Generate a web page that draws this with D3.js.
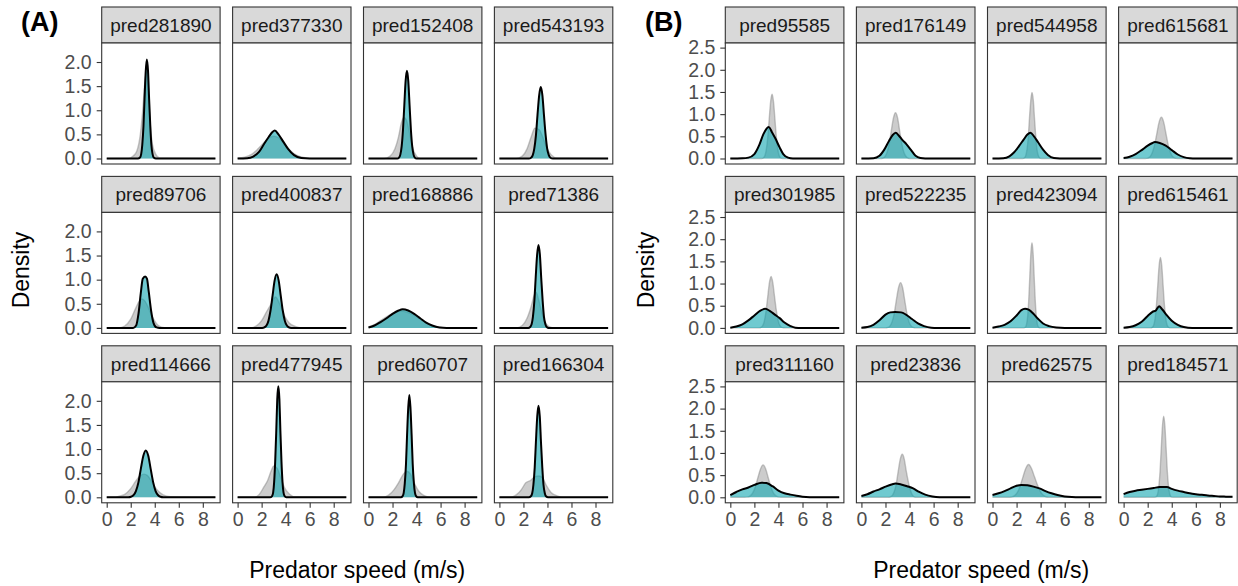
<!DOCTYPE html>
<html>
<head>
<meta charset="utf-8">
<script src="https://cdn.jsdelivr.net/npm/d3@7"></script>
<style>body{margin:0;background:#fff}</style>
</head>
<body>
<script>
// facet labels
var idsA = ["pred281890","pred377330","pred152408","pred543193","pred89706","pred400837","pred168886","pred71386","pred114666","pred477945","pred60707","pred166304"];
var idsB = ["pred95585","pred176149","pred544958","pred615681","pred301985","pred522235","pred423094","pred615461","pred311160","pred23836","pred62575","pred184571"];

var xTicks = [0, 2, 4, 6, 8];
var yTicksA = [0, 0.5, 1, 1.5, 2];
var yTicksB = [0, 0.5, 1, 1.5, 2, 2.5];

// density curves, [speed, density]
var grayA = [
  [[0,0],[1.8,0],[2.2,0.05],[2.5,0.15],[2.8,0.5],[3.0,1.0],[3.15,1.5],[3.3,1.8],[3.45,1.5],[3.6,0.8],[3.8,0.3],[4.1,0.08],[4.4,0.01],[9.05,0]],
  [[0,0.01],[0.6,0.03],[1.2,0.09],[1.7,0.2],[2.2,0.33],[2.7,0.44],[3.0,0.46],[3.4,0.43],[3.9,0.3],[4.4,0.16],[4.9,0.07],[5.5,0.02],[6.2,0],[9.05,0]],
  [[0,0],[1.3,0],[1.8,0.05],[2.2,0.2],[2.5,0.45],[2.75,0.75],[2.95,0.85],[3.15,0.8],[3.4,0.55],[3.7,0.2],[4.0,0.05],[4.3,0],[9.05,0]],
  [[0,0],[1.4,0],[1.9,0.05],[2.3,0.2],[2.65,0.45],[2.95,0.63],[3.3,0.6],[3.6,0.45],[3.9,0.25],[4.3,0.08],[4.8,0.01],[9.05,0]],
  [[0,0],[1.0,0],[1.5,0.04],[2.0,0.18],[2.4,0.4],[2.75,0.57],[2.95,0.6],[3.2,0.55],[3.5,0.4],[3.9,0.18],[4.3,0.05],[4.8,0.005],[9.05,0]],
  [[0,0],[1.1,0],[1.6,0.05],[2.0,0.15],[2.4,0.33],[2.8,0.5],[3.15,0.64],[3.5,0.5],[3.9,0.25],[4.3,0.1],[4.8,0.03],[5.3,0],[9.05,0]],
  [[0,0.02],[0.5,0.07],[1.0,0.15],[1.5,0.23],[2.0,0.3],[2.6,0.35],[3.2,0.33],[3.8,0.26],[4.4,0.17],[5.0,0.08],[5.6,0.03],[6.2,0.005],[9.05,0]],
  [[0,0],[1.4,0],[1.9,0.05],[2.3,0.2],[2.65,0.45],[2.9,0.68],[3.05,0.74],[3.25,0.6],[3.5,0.35],[3.8,0.12],[4.1,0.03],[4.5,0],[9.05,0]],
  [[0,0],[0.6,0],[1.0,0.02],[1.5,0.06],[2.0,0.18],[2.4,0.33],[2.8,0.45],[3.1,0.48],[3.4,0.45],[3.8,0.3],[4.2,0.15],[4.7,0.05],[5.3,0.01],[9.05,0]],
  [[0,0],[1.4,0],[1.8,0.06],[2.2,0.22],[2.5,0.35],[2.8,0.55],[3.0,0.65],[3.3,0.6],[3.6,0.4],[3.9,0.2],[4.3,0.07],[4.8,0.01],[9.05,0]],
  [[0,0],[1.2,0],[1.7,0.05],[2.1,0.15],[2.5,0.3],[2.9,0.48],[3.2,0.54],[3.5,0.48],[3.8,0.3],[4.2,0.12],[4.6,0.04],[5.1,0],[9.05,0]],
  [[0,0],[0.9,0],[1.4,0.05],[1.8,0.15],[2.2,0.3],[2.6,0.35],[2.9,0.42],[3.3,0.44],[3.6,0.4],[3.9,0.25],[4.3,0.1],[4.8,0.03],[5.3,0],[9.05,0]]
];
var tealA = [
  [[0,0],[2.6,0],[2.77,0.02],[2.87,0.09],[2.96,0.28],[3.06,0.67],[3.15,1.24],[3.25,1.81],[3.34,2.05],[3.44,1.81],[3.53,1.24],[3.63,0.67],[3.72,0.28],[3.82,0.09],[3.91,0.02],[4.1,0],[9.05,0]],
  [[0,0],[0.8,0.005],[1.3,0.04],[1.8,0.14],[2.2,0.3],[2.6,0.45],[2.9,0.55],[3.1,0.58],[3.4,0.5],[3.8,0.35],[4.2,0.2],[4.7,0.07],[5.3,0.01],[6.0,0],[9.05,0]],
  [[0,0],[2.4,0],[2.54,0.02],[2.65,0.08],[2.76,0.25],[2.87,0.59],[2.98,1.1],[3.09,1.61],[3.2,1.82],[3.31,1.61],[3.42,1.1],[3.53,0.59],[3.64,0.25],[3.75,0.08],[3.86,0.02],[4.0,0],[9.05,0]],
  [[0,0],[2.45,0],[2.63,0.016],[2.77,0.065],[2.9,0.2],[3.04,0.48],[3.17,0.9],[3.31,1.31],[3.44,1.48],[3.58,1.31],[3.71,0.9],[3.85,0.48],[3.98,0.2],[4.12,0.065],[4.25,0.016],[4.45,0],[9.05,0]],
  [[0,0],[2.2,0],[2.45,0.05],[2.65,0.3],[2.85,0.75],[3.0,1.02],[3.2,1.065],[3.35,1.02],[3.5,0.75],[3.7,0.35],[3.9,0.1],[4.15,0.01],[4.4,0],[9.05,0]],
  [[0,0],[2.05,0],[2.23,0.012],[2.4,0.049],[2.57,0.15],[2.74,0.36],[2.91,0.67],[3.08,0.98],[3.25,1.11],[3.42,0.98],[3.59,0.67],[3.76,0.36],[3.93,0.15],[4.1,0.049],[4.27,0.012],[4.45,0],[9.05,0]],
  [[0,0.01],[0.5,0.05],[1.0,0.12],[1.5,0.2],[2.0,0.29],[2.5,0.36],[2.85,0.385],[3.3,0.36],[3.8,0.29],[4.3,0.2],[4.8,0.11],[5.3,0.05],[5.9,0.01],[6.5,0],[9.05,0]],
  [[0,0],[2.4,0],[2.56,0.019],[2.68,0.076],[2.79,0.23],[2.91,0.56],[3.02,1.04],[3.14,1.52],[3.25,1.72],[3.37,1.52],[3.48,1.04],[3.6,0.56],[3.71,0.23],[3.83,0.076],[3.94,0.019],[4.1,0],[9.05,0]],
  [[0,0],[1.8,0],[2.02,0.011],[2.23,0.043],[2.43,0.13],[2.64,0.31],[2.84,0.59],[3.05,0.86],[3.25,0.97],[3.46,0.86],[3.66,0.59],[3.87,0.31],[4.07,0.13],[4.28,0.043],[4.48,0.011],[4.7,0],[9.05,0]],
  [[0,0],[2.7,0],[2.87,0.026],[2.96,0.1],[3.04,0.31],[3.13,0.75],[3.22,1.39],[3.3,2.03],[3.39,2.3],[3.48,2.03],[3.56,1.39],[3.65,0.75],[3.74,0.31],[3.82,0.1],[3.91,0.026],[4.05,0],[9.05,0]],
  [[0,0],[2.7,0],[2.84,0.024],[2.93,0.093],[3.02,0.29],[3.12,0.69],[3.21,1.29],[3.31,1.87],[3.4,2.12],[3.49,1.87],[3.59,1.29],[3.68,0.69],[3.78,0.29],[3.87,0.093],[3.96,0.024],[4.1,0],[9.05,0]],
  [[0,0],[2.45,0],[2.62,0.021],[2.73,0.083],[2.83,0.26],[2.94,0.62],[3.04,1.15],[3.15,1.68],[3.25,1.9],[3.36,1.68],[3.46,1.15],[3.57,0.62],[3.67,0.26],[3.78,0.083],[3.88,0.021],[4.05,0],[9.05,0]]
];
var grayB = [
  [[0,0],[2.6,0],[2.75,0.016],[2.87,0.064],[2.99,0.2],[3.11,0.47],[3.23,0.88],[3.35,1.28],[3.47,1.45],[3.59,1.28],[3.71,0.88],[3.83,0.47],[3.95,0.2],[4.07,0.064],[4.19,0.016],[4.35,0],[9.05,0]],
  [[0,0],[1.6,0],[1.78,0.011],[1.96,0.045],[2.13,0.14],[2.31,0.33],[2.48,0.62],[2.66,0.91],[2.83,1.03],[3.01,0.91],[3.18,0.62],[3.36,0.33],[3.53,0.14],[3.71,0.045],[3.88,0.011],[4.05,0],[9.05,0]],
  [[0,0],[2.5,0],[2.65,0.017],[2.76,0.065],[2.86,0.2],[2.97,0.48],[3.07,0.9],[3.18,1.31],[3.28,1.49],[3.39,1.31],[3.49,0.9],[3.6,0.48],[3.7,0.2],[3.81,0.065],[3.91,0.017],[4.05,0],[9.05,0]],
  [[0,0],[1.8,0],[2.0,0.01],[2.19,0.041],[2.38,0.13],[2.57,0.3],[2.76,0.56],[2.95,0.82],[3.14,0.93],[3.33,0.82],[3.52,0.56],[3.71,0.3],[3.9,0.13],[4.09,0.041],[4.28,0.01],[4.45,0],[9.05,0]],
  [[0,0],[2.4,0],[2.55,0.013],[2.69,0.05],[2.83,0.16],[2.97,0.38],[3.11,0.7],[3.25,1.02],[3.39,1.16],[3.53,1.02],[3.67,0.72],[3.81,0.42],[3.95,0.2],[4.09,0.07],[4.23,0.02],[4.4,0.003],[4.6,0],[9.05,0]],
  [[0,0],[2.0,0],[2.2,0.011],[2.38,0.045],[2.55,0.14],[2.73,0.33],[2.9,0.62],[3.08,0.9],[3.25,1.02],[3.43,0.9],[3.6,0.62],[3.78,0.33],[3.95,0.14],[4.13,0.045],[4.3,0.011],[4.5,0],[9.05,0]],
  [[0,0],[2.6,0],[2.74,0.021],[2.83,0.084],[2.92,0.26],[3.01,0.62],[3.1,1.16],[3.19,1.69],[3.28,1.92],[3.37,1.69],[3.46,1.16],[3.55,0.62],[3.64,0.26],[3.73,0.084],[3.82,0.021],[3.95,0],[9.05,0]],
  [[0,0],[2.25,0],[2.4,0.018],[2.51,0.07],[2.62,0.22],[2.73,0.52],[2.84,0.96],[2.95,1.4],[3.06,1.59],[3.17,1.4],[3.28,0.96],[3.39,0.52],[3.5,0.22],[3.61,0.07],[3.72,0.018],[3.85,0],[9.05,0]],
  [[0,0],[1.2,0],[1.43,0.008],[1.65,0.032],[1.86,0.099],[2.08,0.24],[2.29,0.44],[2.51,0.64],[2.72,0.73],[2.94,0.64],[3.15,0.44],[3.37,0.24],[3.58,0.099],[3.8,0.032],[4.01,0.008],[4.2,0],[9.05,0]],
  [[0,0],[2.2,0],[2.4,0.011],[2.57,0.043],[2.73,0.13],[2.9,0.31],[3.06,0.59],[3.23,0.86],[3.39,0.97],[3.56,0.86],[3.72,0.6],[3.89,0.36],[4.05,0.18],[4.22,0.06],[4.4,0.012],[4.6,0],[9.05,0]],
  [[0,0],[1.3,0],[1.56,0.008],[1.8,0.032],[2.04,0.1],[2.28,0.24],[2.52,0.45],[2.76,0.65],[3.0,0.74],[3.24,0.65],[3.48,0.47],[3.72,0.29],[3.96,0.14],[4.2,0.05],[4.44,0.012],[4.7,0],[9.05,0]],
  [[0,0],[2.55,0],[2.73,0.02],[2.83,0.08],[2.93,0.25],[3.03,0.59],[3.13,1.11],[3.23,1.61],[3.33,1.83],[3.43,1.61],[3.53,1.11],[3.63,0.59],[3.73,0.25],[3.83,0.08],[3.93,0.02],[4.1,0],[9.05,0]]
];
var tealB = [
  [[0,0],[1.0,0.005],[1.5,0.02],[2.0,0.1],[2.4,0.3],[2.75,0.55],[3.0,0.67],[3.2,0.71],[3.45,0.6],[3.75,0.45],[4.1,0.25],[4.4,0.1],[4.8,0.02],[5.2,0],[9.05,0]],
  [[0,0],[1.0,0.005],[1.5,0.06],[1.9,0.2],[2.3,0.4],[2.6,0.53],[2.85,0.58],[3.1,0.52],[3.4,0.42],[3.75,0.32],[4.1,0.2],[4.5,0.06],[4.9,0.01],[5.3,0],[9.05,0]],
  [[0,0],[0.9,0.005],[1.4,0.05],[1.8,0.14],[2.2,0.28],[2.6,0.43],[2.9,0.54],[3.15,0.58],[3.45,0.5],[3.8,0.36],[4.2,0.2],[4.6,0.08],[5.1,0.01],[5.6,0],[9.05,0]],
  [[0,0.01],[0.5,0.04],[1.0,0.1],[1.5,0.19],[2.0,0.29],[2.4,0.35],[2.6,0.37],[3.0,0.35],[3.5,0.29],[4.0,0.19],[4.5,0.09],[5.0,0.03],[5.5,0.005],[6.0,0],[9.05,0]],
  [[0,0.005],[0.5,0.03],[1.0,0.08],[1.5,0.17],[2.0,0.28],[2.5,0.39],[2.9,0.43],[3.3,0.38],[3.7,0.3],[4.1,0.22],[4.5,0.12],[5.0,0.04],[5.4,0.005],[5.9,0],[9.05,0]],
  [[0,0.005],[0.5,0.02],[1.0,0.07],[1.5,0.17],[2.0,0.3],[2.4,0.35],[2.8,0.36],[3.3,0.35],[3.7,0.3],[4.2,0.2],[4.7,0.1],[5.2,0.04],[5.8,0.005],[6.3,0],[9.05,0]],
  [[0,0.005],[0.5,0.03],[1.0,0.07],[1.5,0.15],[2.0,0.28],[2.4,0.4],[2.7,0.43],[3.0,0.41],[3.4,0.32],[3.8,0.2],[4.2,0.1],[4.7,0.04],[5.3,0.01],[6.0,0],[9.05,0]],
  [[0,0.005],[0.5,0.02],[1.0,0.06],[1.5,0.14],[2.0,0.27],[2.4,0.36],[2.7,0.4],[2.95,0.49],[3.2,0.42],[3.6,0.28],[4.0,0.16],[4.5,0.07],[5.0,0.02],[5.7,0],[9.05,0]],
  [[0,0.05],[0.5,0.12],[1.0,0.18],[1.5,0.22],[2.0,0.28],[2.6,0.33],[3.0,0.32],[3.5,0.25],[4.0,0.15],[4.5,0.09],[5.0,0.06],[5.5,0.035],[6.0,0.015],[6.6,0.003],[7.2,0],[9.05,0]],
  [[0,0.03],[0.5,0.07],[1.0,0.13],[1.5,0.18],[2.0,0.24],[2.5,0.29],[2.85,0.31],[3.3,0.29],[3.8,0.25],[4.3,0.2],[4.8,0.12],[5.3,0.06],[5.9,0.02],[6.5,0.003],[7.1,0],[9.05,0]],
  [[0,0.05],[0.5,0.09],[1.0,0.14],[1.5,0.2],[2.0,0.26],[2.4,0.28],[2.9,0.27],[3.4,0.24],[3.9,0.2],[4.4,0.14],[4.9,0.09],[5.4,0.05],[6.0,0.02],[6.6,0.005],[7.2,0],[9.05,0]],
  [[0,0.07],[0.5,0.12],[1.0,0.15],[1.5,0.17],[2.0,0.19],[2.5,0.21],[3.0,0.23],[3.6,0.23],[4.0,0.19],[4.5,0.15],[5.0,0.12],[5.5,0.09],[6.0,0.07],[6.5,0.055],[7.0,0.04],[7.5,0.03],[8.0,0.02],[8.5,0.015],[9.05,0.01]]
];

var W = 1238, H = 586;
var font = "'Liberation Sans', Arial, Helvetica, sans-serif";
var stripTop = 7, stripH = 36, panelH = 121, rowGap = 12.4, colGap = 12.5;
var tickFont = 19.5, stripFont = 19;

var svg = d3.select("body").append("svg").attr("width", W).attr("height", H)
    .style("font-family", font);

function drawFigure(cfg) {
    var x = d3.scaleLinear().domain([-0.417, 9.44]).range([0, cfg.w]);
    var y = d3.scaleLinear().domain(cfg.yDomain).range([panelH, 0]);

    var area = d3.area().curve(d3.curveMonotoneX)
        .x(function (d) { return x(d[0]); })
        .y0(y(0))
        .y1(function (d) { return y(d[1]); });
    var line = d3.line().curve(d3.curveMonotoneX)
        .x(function (d) { return x(d[0]); })
        .y(function (d) { return y(d[1]); });

    cfg.ids.forEach(function (id, i) {
        var c = i % 4, r = Math.floor(i / 4);
        var gx = cfg.left + c * (cfg.w + colGap);
        var gy = stripTop + r * (stripH + panelH + rowGap);
        var g = svg.append("g").attr("transform", "translate(" + gx + "," + gy + ")");

        // strip
        g.append("rect").attr("width", cfg.w).attr("height", stripH)
            .attr("fill", "#d9d9d9").attr("stroke", "#333").attr("stroke-width", 1.1);
        g.append("text").attr("x", cfg.w / 2).attr("y", stripH / 2).attr("dy", "0.37em")
            .attr("text-anchor", "middle").attr("font-size", stripFont).attr("fill", "#1a1a1a").text(id);

        var p = g.append("g").attr("transform", "translate(0," + stripH + ")");
        p.append("rect").attr("width", cfg.w).attr("height", panelH).attr("fill", "#fff");

        // grey density
        p.append("path").datum(cfg.gray[i]).attr("d", area)
            .attr("fill", "#7f7f7f").attr("fill-opacity", 0.4);
        p.append("path").datum(cfg.gray[i]).attr("d", line)
            .attr("fill", "none").attr("stroke", "#7f7f7f").attr("stroke-opacity", 0.45).attr("stroke-width", 1.4);
        // teal density
        p.append("path").datum(cfg.teal[i]).attr("d", area)
            .attr("fill", "#11a6b0").attr("fill-opacity", 0.6);
        p.append("path").datum(cfg.teal[i]).attr("d", line)
            .attr("fill", "none").attr("stroke", "#000").attr("stroke-width", 2)
            .attr("stroke-linejoin", "round");

        p.append("rect").attr("width", cfg.w).attr("height", panelH)
            .attr("fill", "none").attr("stroke", "#333").attr("stroke-width", 1.1);

        // y axis only on first column
        if (c == 0) {
            var ay = p.append("g").call(d3.axisLeft(y).tickValues(cfg.yTicks).tickSize(5).tickPadding(5).tickFormat(d3.format(".1f")));
            ay.select(".domain").remove();
            ay.selectAll("line").attr("stroke", "#333").attr("stroke-width", 1.1);
            ay.selectAll("text").attr("font-size", tickFont).attr("fill", "#4d4d4d").attr("font-family", font);
        }
        // x axis only on bottom row
        if (r == 2) {
            var ax = p.append("g").attr("transform", "translate(0," + panelH + ")")
                .call(d3.axisBottom(x).tickValues(xTicks).tickSize(5).tickPadding(4));
            ax.select(".domain").remove();
            ax.selectAll("line").attr("stroke", "#333").attr("stroke-width", 1.1);
            ax.selectAll("text").attr("font-size", tickFont).attr("fill", "#4d4d4d").attr("font-family", font);
        }
    });

    var mid = cfg.left + (4 * cfg.w + 3 * colGap) / 2;
    svg.append("text").attr("x", mid).attr("y", 578).attr("text-anchor", "middle")
        .attr("font-size", 23).attr("fill", "#000").text("Predator speed (m/s)");
    svg.append("text").attr("transform", "translate(" + cfg.yTitleX + ",270) rotate(-90)")
        .attr("text-anchor", "middle").attr("font-size", 23).attr("fill", "#000").text("Density");
    svg.append("text").attr("x", cfg.tagX).attr("y", 31).attr("font-size", 27).attr("font-weight", "bold")
        .attr("fill", "#000").text(cfg.tag);
}

drawFigure({ ids: idsA, gray: grayA, teal: tealA, left: 101.7, w: 118.4, yDomain: [-0.114, 2.394], yTicks: yTicksA, yTitleX: 29, tagX: 21, tag: "(A)" });
drawFigure({ ids: idsB, gray: grayB, teal: tealB, left: 725.3, w: 118.6, yDomain: [-0.124, 2.604], yTicks: yTicksB, yTitleX: 654, tagX: 645, tag: "(B)" });
</script>
</body>
</html>
